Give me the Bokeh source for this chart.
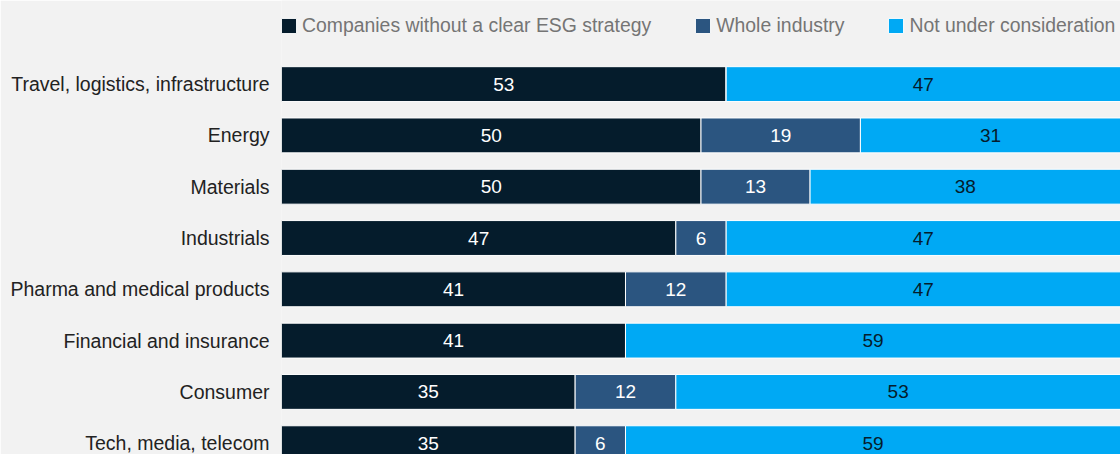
from bokeh.plotting import figure
from bokeh.models import ColumnDataSource, Range1d, FixedTicker, Legend, LegendItem
from bokeh.core.properties import value
from bokeh.embed import file_html
from bokeh.resources import INLINE

categories = ["Travel, logistics, infrastructure", "Energy", "Materials", "Industrials",
              "Pharma and medical products", "Financial and insurance", "Consumer",
              "Tech, media, telecom"]
no_strategy = [53, 50, 50, 47, 41, 41, 35, 35]
whole_industry = [0, 19, 13, 6, 12, 0, 12, 6]
not_considered = [47, 31, 38, 47, 47, 59, 53, 59]
series_names = ["Companies without a clear ESG strategy", "Whole industry", "Not under consideration"]

colors = ["#051c2c", "#2b5580", "#00a9f4"]
label_colors = ["#ffffff", "#ffffff", "#051c2c"]
FONT = "Liberation Sans"
BG = "#f2f2f2"

ypos = list(range(len(categories)))
src = ColumnDataSource(dict(y=ypos, a=no_strategy, b=whole_industry, c=not_considered))

p = figure(width=1120, height=454, output_backend="svg", toolbar_location=None,
           x_range=Range1d(0, 100), y_range=Range1d(7.22, -1.63))
p.min_border = 0
p.min_border_left = 281
p.background_fill_color = BG
p.border_fill_color = BG
p.outline_line_color = None
p.grid.visible = False
p.xaxis.visible = False

rs = p.hbar_stack(["a", "b", "c"], y="y", height=0.68, color=colors, source=src,
                  line_color="#ffffff", line_width=1)

# value labels, centred on the visible part of each segment
series = [no_strategy, whole_industry, not_considered]
for si, vals in enumerate(series):
    xs, ys, ts = [], [], []
    for i, v in enumerate(vals):
        if v == 0:
            continue
        start = sum(series[k][i] for k in range(si))
        end = min(start + v, 100)
        xs.append((start + end) / 2)
        ys.append(i)
        ts.append(str(v))
    p.text(x=xs, y=ys, text=ts, text_align="center", text_baseline="middle",
           text_color=label_colors[si], text_font=value(FONT), text_font_size="19px")

yax = p.yaxis[0]
yax.ticker = FixedTicker(ticks=ypos)
yax.major_label_overrides = {i: c for i, c in enumerate(categories)}
yax.axis_line_color = None
yax.major_tick_line_color = None
yax.minor_tick_line_color = None
yax.major_tick_out = 0
yax.major_label_standoff = 12
yax.major_label_text_font = FONT
yax.major_label_text_font_size = "19.5px"
yax.major_label_text_color = "#222222"

legend = Legend(items=[LegendItem(label=n, renderers=[r]) for n, r in zip(series_names, rs)],
                orientation="horizontal", location=(-2, 417))
legend.glyph_width = 19
legend.glyph_height = 19
legend.label_standoff = 4
legend.spacing = 42
legend.padding = 0
legend.margin = 0
legend.border_line_color = None
legend.background_fill_alpha = 0
legend.label_text_font = FONT
legend.label_text_font_size = "19.4px"
legend.label_text_color = "#757575"
legend.label_height = 20
p.add_layout(legend, "center")

open("out.html", "w").write(file_html(p, INLINE))
